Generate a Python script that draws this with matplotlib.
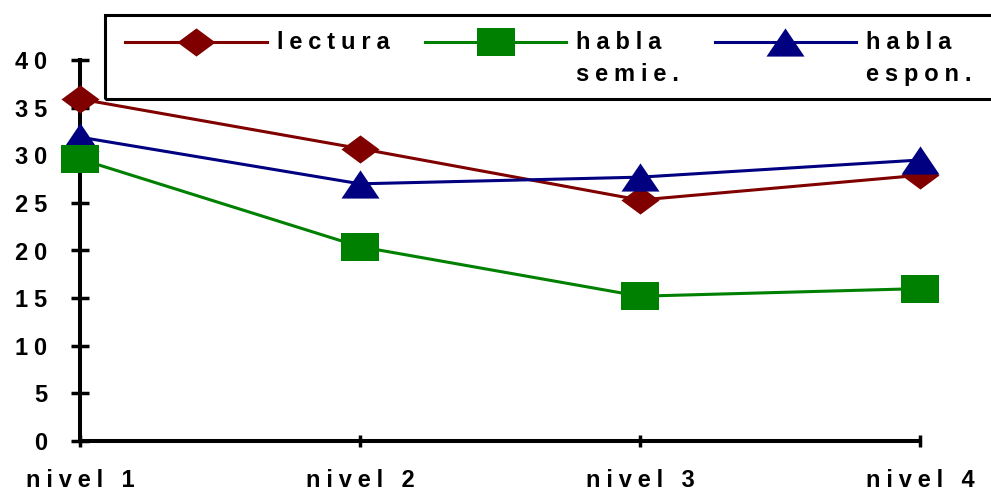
import matplotlib
matplotlib.use('Agg')
import matplotlib.pyplot as plt
from matplotlib.path import Path
from matplotlib.patches import Rectangle
from matplotlib.transforms import Affine2D

# data
CATEGORIES = ['nivel 1', 'nivel 2', 'nivel 3', 'nivel 4']
LECTURA = [35.9, 30.7, 25.3, 27.9]
HABLA_SEMIE = [29.6, 20.4, 15.2, 16.0]
HABLA_ESPON = [31.9, 27.0, 27.7, 29.5]
Y_TICKS = [0, 5, 10, 15, 20, 25, 30, 35, 40]
SERIES_NAMES = ['lectura', 'habla\nsemie.', 'habla\nespon.']

FS = 17
plt.rcParams['font.family'] = ['Liberation Sans', 'DejaVu Sans']
plt.rcParams['font.weight'] = 'bold'


def spaced(s):
    # old chart used wide letter spacing
    return '\n'.join('\u2005'.join(line) for line in s.split('\n'))


# squashed markers (wider than tall)
DIAMOND = Path([(-1, 0), (0, 0.74), (1, 0), (0, -0.74), (-1, 0)], closed=True)
SQUARE = Path([(-1, -0.72), (1, -0.72), (1, 0.72), (-1, 0.72), (-1, -0.72)], closed=True)
TRIANGLE = Path([(-1, -0.74), (1, -0.74), (0, 0.74), (-1, -0.74)], closed=True)

fig = plt.figure(figsize=(9.91, 4.90), dpi=100)
ax = fig.add_axes([80 / 991, 49 / 490, 840 / 991, 381 / 490])

x = list(range(len(CATEGORIES)))
ms = 27.4
l1, = ax.plot(x, LECTURA, color='#800000', lw=2.2, marker=DIAMOND, ms=ms,
              mew=0, clip_on=False, zorder=3)
l3, = ax.plot(x, HABLA_ESPON, color='#000080', lw=2.2, marker=TRIANGLE, ms=ms,
              mew=0, clip_on=False, zorder=4)
l2, = ax.plot(x, HABLA_SEMIE, color='#008000', lw=2.2, marker=SQUARE, ms=ms,
              mew=0, clip_on=False, zorder=5)

ax.set_xlim(0, 3)
ax.set_ylim(0, 40)
ax.set_xticks(x, [spaced(c) for c in CATEGORIES])
ax.set_yticks(Y_TICKS, [spaced(str(v)) for v in Y_TICKS])
for s in ['top', 'right']:
    ax.spines[s].set_visible(False)
for s in ['left', 'bottom']:
    ax.spines[s].set_linewidth(2.9)
ax.tick_params(axis='y', direction='inout', length=13, width=2.5, pad=17, labelsize=FS)
ax.tick_params(axis='x', direction='inout', length=8, width=2.5, pad=16, labelsize=FS)

# legend
labels = [spaced(SERIES_NAMES[0] + '\n'), spaced(SERIES_NAMES[1]), spaced(SERIES_NAMES[2])]
leg = ax.legend([l1, l2, l3], labels, loc='upper left',
                bbox_to_anchor=(125 / 991, 1 - 31 / 490), bbox_transform=fig.transFigure,
                ncol=3, frameon=False, handlelength=6.0, handletextpad=0.42,
                columnspacing=1.5, borderpad=0, borderaxespad=0,
                prop=dict(weight='bold', size=FS))
for t in leg.get_texts():
    t.set_linespacing(1.5)
# lift the legend handles up to the first line of text
for h in leg.legend_handles:
    h.set_transform(h.get_transform() + Affine2D().translate(0, 17))

fig.patches.append(Rectangle((105 / 991, 1 - 99 / 490), 1000 / 991, 84 / 490,
                             transform=fig.transFigure, fill=False, lw=2.2,
                             edgecolor='black', clip_on=False))

fig.savefig('out.png', dpi=100)
